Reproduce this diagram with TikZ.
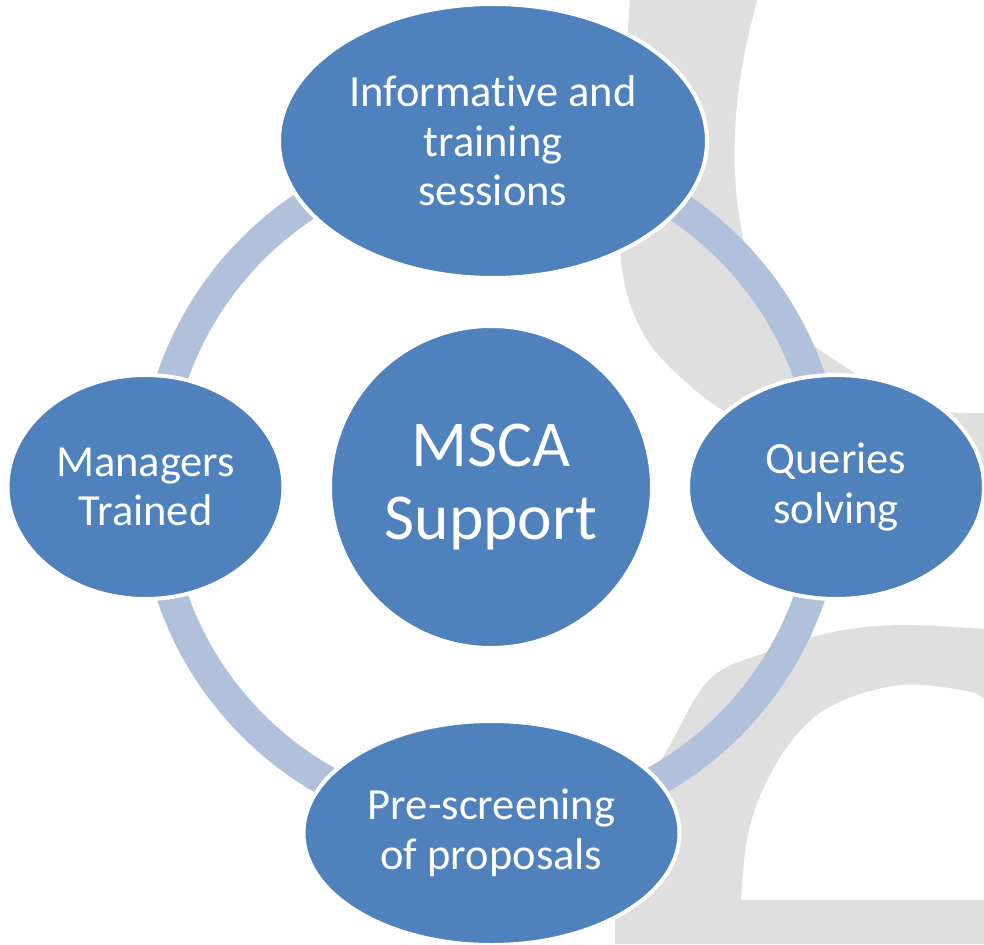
\documentclass[tikz,border=0pt]{standalone}
\usepackage{fontspec}
\setmainfont[RawFeature=-liga]{Carlito}
\usetikzlibrary{shapes.geometric}
\definecolor{nodeblue}{RGB}{79,129,189}
\definecolor{ringblue}{RGB}{177,193,220}
\definecolor{wmgray}{RGB}{223,223,223}
\begin{document}
\begin{tikzpicture}[x=1pt,y=-1pt,
  bubble/.style={ellipse, fill=nodeblue, draw=white, line width=4pt, inner sep=0pt,
    text=white, align=center, font=\fontsize{44.5}{49.5}\selectfont},
  hub/.style={circle, fill=nodeblue, draw=white, line width=4pt, inner sep=0pt,
    text=white, align=center, font=\fontsize{65.5}{73}\selectfont},
  ringline/.style={draw=ringblue, line width=31pt},
  wm/.style={fill=wmgray}]
\useasboundingbox (0,0) rectangle (984,944);
\clip (0,0) rectangle (984,944);
\fill[white] (0,0) rectangle (984,944);
% watermark shapes
\fill[wm] plot[smooth, tension=0.6] coordinates {(630,0) (622,130) (621,260) (643,333) (687,383) (740,420) (820,452) (900,464) (984,468)}
  -- (984,413)
  -- plot[smooth, tension=0.6] coordinates {(984,413) (940,411) (895,396) (853,372) (800,335) (767,300) (750,267) (737,200) (735,133) (742,67) (757,0)}
  -- cycle;
\fill[wm] plot[smooth, tension=0.6] coordinates {(615,944) (617,890) (628,830) (648,785) (670,745) (710,679) (767,652) (833,632) (900,625) (984,629)}
  -- (984,699)
  -- plot[smooth, tension=0.6] coordinates {(984,699) (967,691) (900,685) (833,705) (793,739) (763,789) (747,839) (741,900)}
  -- (984,900) -- (984,944) -- cycle;
% ring
\coordinate (c) at (491,487);
\draw[ringline] (c) circle (337pt);
% nodes
\node[hub, minimum size=322pt] (hub) at (c) {MSCA\\Support};
\node[bubble, minimum width=428pt, minimum height=274pt] (info) at (493,141) {Informative and\\training\\sessions};
\node[bubble, minimum width=276pt, minimum height=224pt] (mgr) at (145.5,487) {Managers\\Trained};
\node[bubble, minimum width=296pt, minimum height=224pt] (qry) at (836,487) {Queries\\solving};
\node[bubble, minimum width=376pt, minimum height=224pt] (pre) at (491.5,833) {Pre-screening\\of proposals};
\end{tikzpicture}
\end{document}
